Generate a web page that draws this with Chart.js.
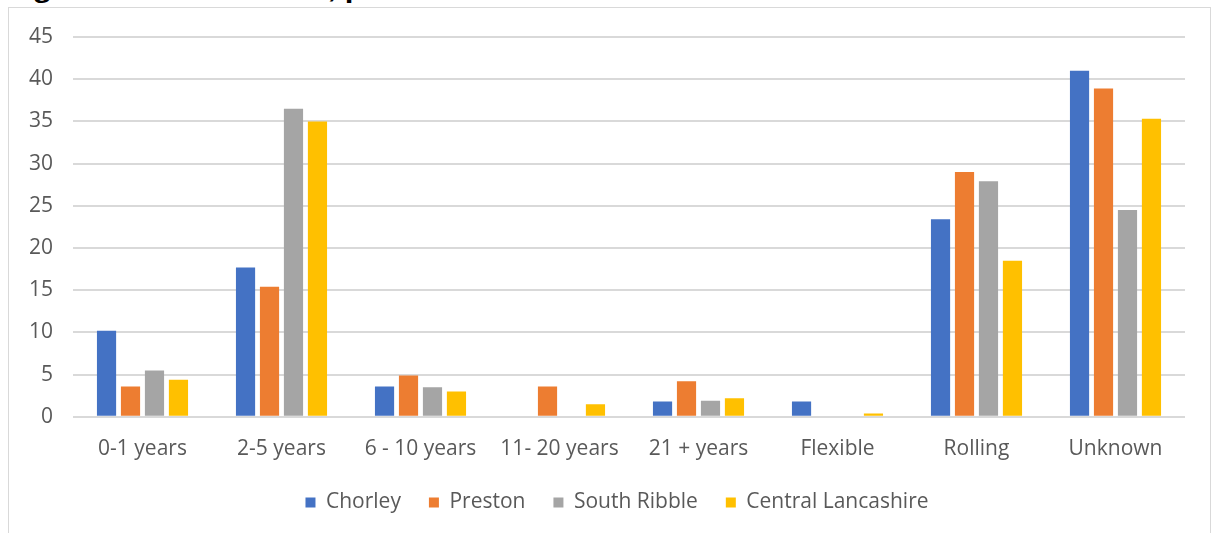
<!DOCTYPE html>
<html>
<head>
<meta charset="utf-8">
<script src="https://cdn.jsdelivr.net/npm/chart.js@4.4.1/dist/chart.umd.min.js"></script>
<style>
  html, body { margin: 0; padding: 0; background: #fff; overflow: hidden; }
  #title {
    position: absolute; left: 5px; top: -22px;
    font: bold 24px/24px "Liberation Sans", Arial, sans-serif; color: #000;
    white-space: nowrap;
    transform: scaleX(1.3); transform-origin: left top;
  }
  #box {
    position: absolute; left: 8px; top: 7px; width: 1201px; height: 540px;
    border: 1px solid #d9d9d9; border-bottom: none; background: #fff;
  }
  canvas { display: block; }
</style>
</head>
<body>
<div id="title">Figure 10: Lease term, percent</div>
<div id="box"><canvas id="chart" width="1201" height="526"></canvas></div>
<script>
const categories = ["0-1 years", "2-5 years", "6 - 10 years", "11- 20 years", "21 + years", "Flexible", "Rolling", "Unknown"];
const chorley = [10.2, 17.7, 3.6, 0, 1.8, 1.8, 23.4, 41.0];
const preston = [3.6, 15.4, 4.9, 3.6, 4.2, 0, 29.0, 38.9];
const southRibble = [5.5, 36.5, 3.5, 0, 1.9, 0, 27.9, 24.5];
const centralLancs = [4.4, 35.0, 3.0, 1.5, 2.2, 0.4, 18.5, 35.3];
const yTicks = [0, 5, 10, 15, 20, 25, 30, 35, 40, 45];

const font = { family: "'Open Sans', 'Noto Sans', sans-serif", size: 21 };
const grey = "#595959";

// legend keeps its wide item spacing but sits closer to the axis labels,
// and is centred on the whole box rather than on the padded area
const legendGap = 10;
const legendShift = 20;
const tightLegend = {
  id: "tightLegend",
  afterInit(chart) {
    const lg = chart.legend;
    const fit = lg.fit.bind(lg);
    const draw = lg.draw.bind(lg);
    lg.fit = function () { fit(); this.height -= legendGap; };
    lg.draw = function () {
      const { top, left, right } = this;
      this.top -= legendGap;
      this.left += legendShift;
      this.right += legendShift;
      draw();
      Object.assign(this, { top, left, right });
    };
  }
};

const ctx = document.getElementById("chart").getContext("2d");
new Chart(ctx, {
  type: "bar",
  data: {
    labels: categories,
    datasets: [
      { label: "Chorley", data: chorley, backgroundColor: "#4472C4" },
      { label: "Preston", data: preston, backgroundColor: "#ED7D31" },
      { label: "South Ribble", data: southRibble, backgroundColor: "#A5A5A5" },
      { label: "Central Lancashire", data: centralLancs, backgroundColor: "#FFC000" }
    ]
  },
  plugins: [tightLegend],
  options: {
    responsive: false,
    animation: false,
    devicePixelRatio: 1,
    datasets: {
      bar: { categoryPercentage: 0.69, barPercentage: 0.8 }
    },
    layout: { padding: { left: 0, right: 25, top: 29, bottom: 11 } },
    scales: {
      x: {
        grid: { display: false },
        border: { display: false },
        ticks: { color: grey, font, padding: 12, maxRotation: 0 }
      },
      y: {
        min: 0,
        max: 45,
        afterBuildTicks: axis => { axis.ticks = yTicks.map(v => ({ value: v })); },
        afterFit: axis => {
          axis.width = 64;
          axis.paddingTop = 0;
          axis.paddingBottom = 0;
        },
        grid: { color: "#d9d9d9", lineWidth: 2, drawTicks: false },
        border: { display: false },
        ticks: { color: grey, font, padding: 20 }
      }
    },
    plugins: {
      legend: {
        position: "bottom",
        labels: { color: grey, font, boxWidth: 10, boxHeight: 10, padding: 28 }
      },
      tooltip: { enabled: false }
    }
  }
});
</script>
</body>
</html>
